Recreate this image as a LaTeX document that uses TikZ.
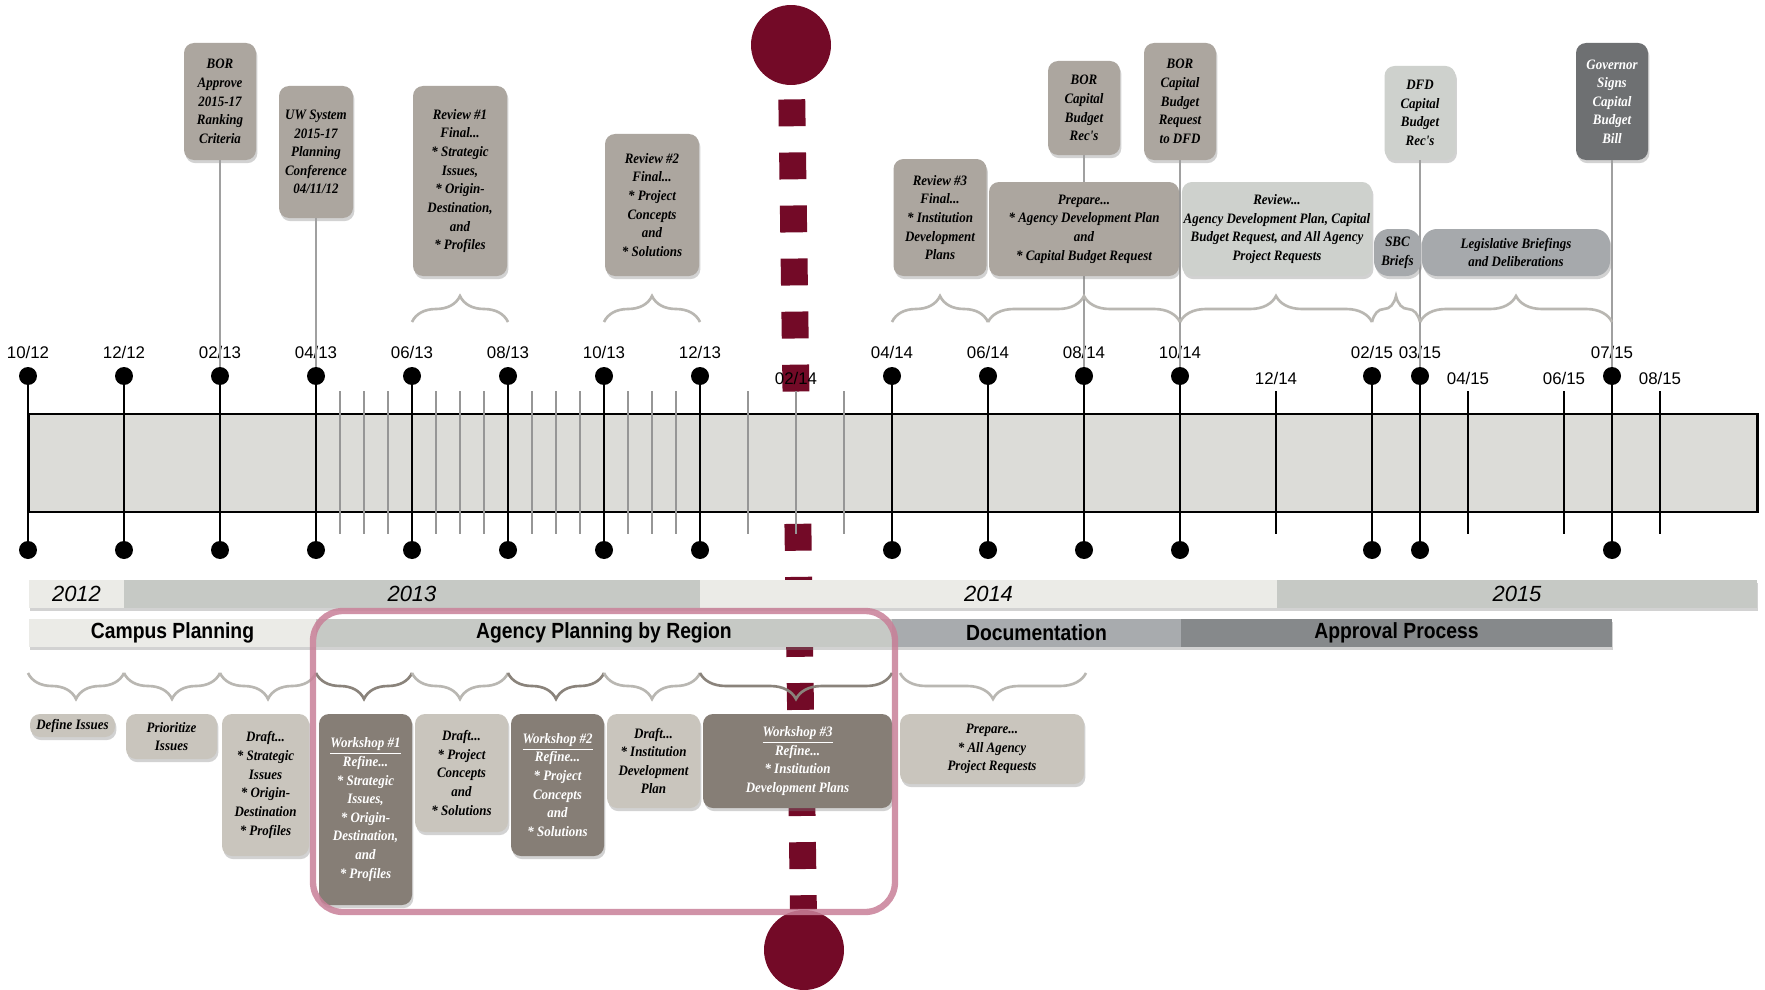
\documentclass[tikz,border=0pt]{standalone}
\usepackage{fontspec}
\setmainfont{Liberation Serif}
\setsansfont{Liberation Sans}
\newfontfamily\datefont{Liberation Sans}
\newfontfamily\calloutfont[FakeStretch=0.9]{Liberation Serif}
\newfontfamily\phasefont[FakeStretch=0.88]{Liberation Sans}
\usetikzlibrary{shadows,decorations.pathreplacing}

\definecolor{maroon}{RGB}{115,10,39}
\definecolor{taupe}{RGB}{172,166,159}
\definecolor{sand}{RGB}{201,197,189}
\definecolor{mocha}{RGB}{134,126,118}
\definecolor{mist}{RGB}{206,209,205}
\definecolor{slate}{RGB}{166,169,172}
\definecolor{graphite}{RGB}{110,112,114}
\definecolor{barfill}{RGB}{220,220,216}
\definecolor{paleyear}{RGB}{235,235,231}
\definecolor{midyear}{RGB}{198,201,197}
\definecolor{docgray}{RGB}{168,171,174}
\definecolor{apprgray}{RGB}{134,137,139}
\definecolor{pinkframe}{RGB}{200,128,152}
\definecolor{leadgray}{RGB}{160,160,160}
\definecolor{weekgray}{RGB}{150,150,150}
\definecolor{bracegray}{RGB}{185,183,178}
\definecolor{darkbrace}{RGB}{138,131,123}

\newcommand\boxfont{\calloutfont\fontsize{8.2}{10.6}\selectfont\bfseries\itshape}

\tikzset{
  wh/.style 2 args={minimum width=#1*0.02cm, minimum height=#2*0.02cm},
  boxshadow/.style={drop shadow={shadow xshift=0.8pt, shadow yshift=-1.8pt, opacity=0.35}},
  callout/.style={boxshadow, rounded corners=0.2cm, fill=taupe, inner sep=1pt,
    align=center, font=\boxfont, text=black},
  lowbox/.style={callout, fill=sand},
  workshop/.style={callout, fill=mocha, text=white},
  dot/.style={circle, fill=black, inner sep=0pt, minimum size=0.36cm},
  bigdot/.style={circle, fill=maroon, inner sep=0pt, minimum size=1.6cm},
  tick/.style={line width=1.1pt},
  week/.style={line width=0.8pt, draw=weekgray},
  leader/.style={line width=1.1pt, draw=leadgray},
  datelab/.style={font=\datefont\fontsize{9.6}{11}\selectfont},
  curly/.style={decorate, decoration={brace, amplitude=0.52cm}, line width=1.5pt, draw=bracegray},
  yearbar/.style={boxshadow, inner sep=0pt, font=\sffamily\itshape\fontsize{12.5}{14}\selectfont},
  phasebar/.style={boxshadow, inner sep=0pt, font=\phasefont\bfseries\fontsize{12.5}{14}\selectfont},
  redline/.style={draw=maroon, line width=15.3pt, dash pattern=on 15.3pt off 14.9pt, dash phase=22.2pt},
  pinkline/.style={draw=pinkframe, line width=3.6pt, rounded corners=0.6cm, opacity=0.85}
}

\begin{document}
\begin{tikzpicture}[x=0.02cm, y=-0.02cm]
  \useasboundingbox (0,0) rectangle (1765,990);
  \fill[white] (0,0) rectangle (1765,990);

  % today marker
  \node[bigdot] (sun) at (791,45) {};
  \node[bigdot] (moon) at (804,950) {};
  \draw[redline] (sun) -- (moon);

  % timeline bar
  \node[draw, line width=1.7pt, fill=barfill, inner sep=0pt, wh={1728}{98}] (timeline) at (893,463) {};

  % half-month marks
  \foreach \h in {6.5,7,7.5,8.5,9,9.5,10.5,11,11.5,12.5,13,13.5,15,16,17}
    \draw[week] ({28+48*\h},391) -- ({28+48*\h},534);

  % months with milestones
  \foreach \m/\mm/\yy in {0/10/12,2/12/12,4/02/13,6/04/13,8/06/13,10/08/13,12/10/13,14/12/13,18/04/14,20/06/14,22/08/14,24/10/14,28/02/15,29/03/15,33/07/15}{
    \node[dot] (top\m) at ({28+48*\m},376) {};
    \node[dot] (bot\m) at ({28+48*\m},550) {};
    \draw[tick] (top\m) -- (bot\m);
    \node[datelab] (lab\m) at ({28+48*\m},352) {\mm/\yy};
  }

  % plain months
  \foreach \m/\mm/\yy in {26/12/14,30/04/15,32/06/15,34/08/15}{
    \draw[tick] ({28+48*\m},391) -- ({28+48*\m},534);
    \node[datelab] (lab\m) at ({28+48*\m},378) {\mm/\yy};
  }
  \node[datelab] (lab16) at (796,378) {02/14};

  % milestones
  \node[callout, wh={72}{117}] (borApprove) at (220,101.5) {BOR\\Approve\\2015-17\\Ranking\\Criteria};
  \node[callout, wh={74}{132}] (uwConf) at (316,152) {UW System\\2015-17\\Planning\\Conference\\04/11/12};
  \node[callout, wh={72}{94}] (borRecs) at (1084,108) {BOR\\Capital\\Budget\\Rec's};
  \node[callout, wh={72}{117}] (borDfd) at (1180,101.5) {BOR\\Capital\\Budget\\Request\\to DFD};
  \node[callout, fill=mist, wh={71}{94}] (dfdRecs) at (1420,113) {DFD\\Capital\\Budget\\Rec's};
  \node[callout, fill=graphite, text=white, wh={72}{117}] (govBill) at (1612,101.5) {Governor\\Signs\\Capital\\Budget\\Bill};

  \draw[leader] (borApprove.south) -- (top4);
  \draw[leader] (uwConf.south) -- (top6);
  \draw[leader] (borRecs.south) -- (top22);
  \draw[leader] (borDfd.south) -- (top24);
  \draw[leader] (dfdRecs.south) -- (top29);
  \draw[leader] (govBill.south) -- (top33);

  % reviews and state steps
  \node[callout, wh={94}{190}] (review1) at (460,181) {Review \#1\\Final...\\* Strategic\\Issues,\\* Origin-\\Destination,\\and\\* Profiles};
  \node[callout, wh={94}{142}] (review2) at (652,205) {Review \#2\\Final...\\* Project\\Concepts\\and\\* Solutions};
  \node[callout, wh={93}{117}] (review3) at (940,217.5) {Review \#3\\Final...\\* Institution\\Development\\Plans};
  \node[callout, wh={190}{94}] (prepareTop) at (1084,229) {Prepare...\\* Agency Development Plan\\and\\* Capital Budget Request};
  \node[callout, fill=mist, wh={190}{94}] (reviewAll) at (1277,229) {Review...\\Agency Development Plan, Capital\\Budget Request, and All Agency\\Project Requests};
  \node[callout, fill=slate, rounded corners=0.3cm, wh={47}{47}] (sbc) at (1397.5,252.5) {SBC\\Briefs};
  \node[callout, fill=slate, rounded corners=0.3cm, wh={188}{47}] (legis) at (1516,252.5) {Legislative Briefings\\and Deliberations};

  \foreach \a/\b in {412/508,604/700,892/988,988/1180,1180/1372,1372/1420,1420/1612}
    \draw[curly] (\a,322) -- (\b,322);

  % years
  \node[yearbar, fill=paleyear, wh={95}{28}] (y2012) at (76.5,594) {2012};
  \node[yearbar, fill=midyear, wh={576}{28}] (y2013) at (412,594) {2013};
  \node[yearbar, fill=paleyear, wh={577}{28}] (y2014) at (988.5,594) {2014};
  \node[yearbar, fill=midyear, wh={480}{28}] (y2015) at (1517,594) {2015};

  % phases
  \node[phasebar, fill=paleyear, wh={287}{28}] (campus) at (172.5,633) {Campus Planning};
  \node[phasebar, fill=midyear, wh={576}{28}] (agency) at (604,633) {Agency Planning by Region};
  \node[phasebar, fill=docgray, wh={289}{28}] (docs) at (1036.5,633) {Documentation};
  \node[phasebar, fill=apprgray, wh={431}{28}] (approval) at (1396.5,633) {Approval Process};

  \foreach \a/\b/\c in {28/124/bracegray,124/220/bracegray,220/316/bracegray,316/412/darkbrace,412/508/bracegray,508/604/darkbrace,604/700/bracegray,700/892/darkbrace,900/1086/bracegray}
    \draw[curly, draw=\c] (\b,673) -- (\a,673);

  % campus and agency steps
  \node[lowbox, wh={85}{23}] (defIssues) at (72.5,725.5) {Define Issues};
  \node[lowbox, wh={91}{45}] (prioIssues) at (171.5,736.5) {Prioritize\\Issues};
  \node[lowbox, wh={87}{142}] (draftOne) at (265.5,785) {Draft...\\* Strategic\\Issues\\* Origin-\\Destination\\* Profiles};
  \node[workshop, wh={93}{191}] (wsOne) at (365.5,809.5) {\underline{Workshop \#1}\\Refine...\\* Strategic\\Issues,\\* Origin-\\Destination,\\and\\* Profiles};
  \node[lowbox, wh={93}{118}] (draftTwo) at (461.5,773) {Draft...\\* Project\\Concepts\\and\\* Solutions};
  \node[workshop, wh={93}{142}] (wsTwo) at (557.5,785) {\underline{Workshop \#2}\\Refine...\\* Project\\Concepts\\and\\* Solutions};
  \node[lowbox, wh={93}{94}] (draftThree) at (653.5,761) {Draft...\\* Institution\\Development\\Plan};
  \node[workshop, wh={189}{94}] (wsThree) at (797.5,761) {\underline{Workshop \#3}\\Refine...\\* Institution\\Development Plans};
  \node[lowbox, wh={184}{70}] (prepareAll) at (992,749) {Prepare...\\* All Agency\\Project Requests};

  % region frame
  \draw[pinkline] (313,611) rectangle (895,912);
\end{tikzpicture}
\end{document}
